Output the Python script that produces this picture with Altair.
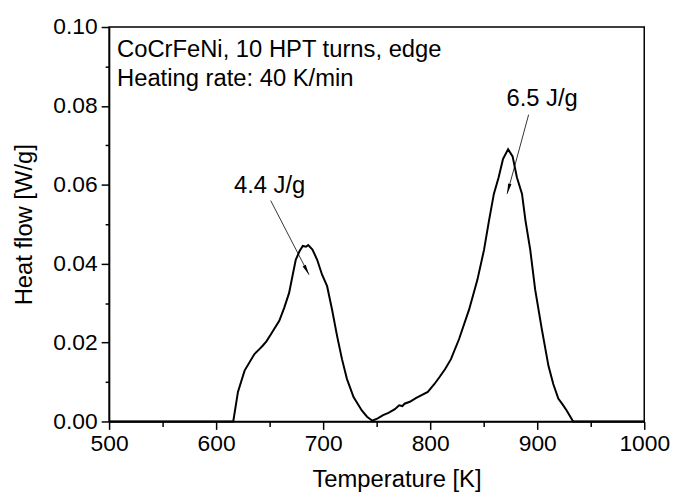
import altair as alt
import pandas as pd

# DSC curve
temperature = [500, 616, 620.4, 626.6, 635.8, 640, 643.5, 647, 651.2, 659, 663.6, 668.2, 671.3,
               674.4, 678, 681, 684, 686, 690, 694.4, 699, 703.7, 708.3, 713, 717.6, 722.2,
               728.4, 736.1, 741, 746, 751, 756, 761, 767, 771, 774, 776, 781, 787, 797.8,
               804, 808.6, 814, 819.4, 827, 836.4, 844.1, 850.3, 855, 859.5, 864, 868, 872.8,
               877, 881, 885.8, 889, 893.5, 898.1, 904.3, 910.5, 915, 919.7, 924, 927.5,
               933.6, 1000]
heat_flow = [0, 0, 0.0075, 0.0129, 0.0171, 0.0182, 0.0192, 0.0203, 0.0221, 0.0255, 0.0288,
             0.0326, 0.0368, 0.0410, 0.0432, 0.0445, 0.0443, 0.0447, 0.0436, 0.0410, 0.0372,
             0.0343, 0.0284, 0.0217, 0.0158, 0.0108, 0.0062, 0.0028, 0.0012, 0.0002, 0.0008,
             0.0016, 0.0022, 0.0031, 0.0041, 0.0039, 0.0045, 0.0050, 0.0060, 0.0075, 0.0095,
             0.0112, 0.0133, 0.0158, 0.0209, 0.0284, 0.0359, 0.0435, 0.0510, 0.0577, 0.0619,
             0.0665, 0.0690, 0.0672, 0.0619, 0.0577, 0.0510, 0.0435, 0.0334, 0.0234, 0.0141,
             0.0095, 0.0058, 0.0042, 0.0028, 0.0, 0.0]

# annotations
arrow_x_start = [651.0, 892.0]
arrow_y_start = [0.0560, 0.0778]
arrow_x_end = [686.8, 871.9]
arrow_y_end = [0.0372, 0.0577]
arrow_angle = [152, 195]

peak_labels = ["4.4 J/g", "6.5 J/g"]
peak_label_x = [650.0, 904.6]
peak_label_y = [0.0598, 0.0817]

info_lines = ["CoCrFeNi, 10 HPT turns, edge", "Heating rate: 40 K/min"]
info_x = [507.4, 507.4]
info_y = [0.0942, 0.0867]

x_major = [500, 600, 700, 800, 900, 1000]
x_minor = [550, 650, 750, 850, 950]
y_major = [0.0, 0.02, 0.04, 0.06, 0.08, 0.10]
y_minor = [0.01, 0.03, 0.05, 0.07, 0.09]

FONT = "Liberation Sans"
FS_TICK = 23
FS_TEXT = 24

curve = pd.DataFrame({"T": temperature, "H": heat_flow})
arrows = pd.DataFrame({"x": arrow_x_start, "y": arrow_y_start,
                       "x2": arrow_x_end, "y2": arrow_y_end, "angle": arrow_angle})
peaks = pd.DataFrame({"x": peak_label_x, "y": peak_label_y, "t": peak_labels})
info = pd.DataFrame({"x": info_x, "y": info_y, "t": info_lines})

xscale = alt.Scale(domain=[500, 1000], nice=False, zero=False)
yscale = alt.Scale(domain=[0, 0.1], nice=False)

x_axis = alt.Axis(
    values=x_major, title="Temperature [K]", format="d", orient="bottom",
    tickSize=8, labelPadding=3, labelFlush=False, labelOverlap=False, grid=False,
    titlePadding=13, titleX=290,
)
y_axis = alt.Axis(
    values=y_major, title="Heat flow [W/g]", format=".2f", orient="left",
    tickSize=8, labelPadding=4, labelOverlap=False, grid=False, titlePadding=17,
)
x_minor_axis = alt.Axis(
    values=x_minor, orient="bottom", tickSize=5, labels=False, domain=False,
    grid=False, title=None,
)
y_minor_axis = alt.Axis(
    values=y_minor, orient="left", tickSize=4, labels=False, domain=False,
    grid=False, title=None,
)

line = alt.Chart(curve).mark_line(color="black", strokeWidth=2).encode(
    x=alt.X("T:Q", scale=xscale, axis=x_axis),
    y=alt.Y("H:Q", scale=yscale, axis=y_axis),
)

rules = alt.Chart(arrows).mark_rule(color="black", strokeWidth=0.8).encode(
    x=alt.X("x:Q", scale=xscale, axis=x_minor_axis),
    y=alt.Y("y:Q", scale=yscale, axis=y_minor_axis),
    x2="x2:Q", y2="y2:Q",
)

heads = alt.Chart(arrows).mark_point(
    shape="M0,0 L-0.32,1.9 L0.32,1.9 Z", filled=True, color="black", size=120, opacity=1
).encode(
    x=alt.X("x2:Q", scale=xscale, axis=None),
    y=alt.Y("y2:Q", scale=yscale, axis=None),
    angle=alt.Angle("angle:Q", scale=None),
)

peak_text = alt.Chart(peaks).mark_text(font=FONT, fontSize=FS_TEXT, color="black",
                                       baseline="middle", align="center").encode(
    x=alt.X("x:Q", scale=xscale, axis=None),
    y=alt.Y("y:Q", scale=yscale, axis=None),
    text="t:N")

info_text = alt.Chart(info).mark_text(font=FONT, fontSize=FS_TEXT, color="black",
                                      baseline="middle", align="left").encode(
    x=alt.X("x:Q", scale=xscale, axis=None),
    y=alt.Y("y:Q", scale=yscale, axis=None),
    text="t:N")

chart = alt.layer(line, rules, heads, peak_text, info_text).resolve_axis(
    x="independent", y="independent"
).properties(
    width=540, height=398,
    padding={"left": 102, "top": 17, "right": 27, "bottom": 72},
    autosize=alt.AutoSizeParams(type="none"),
    background="white",
).configure_view(
    stroke="black", strokeWidth=1.5
).configure_axis(
    labelFont=FONT, labelFontSize=FS_TICK, labelColor="black",
    titleFont=FONT, titleFontSize=FS_TEXT, titleColor="black", titleFontWeight="normal",
    domainColor="black", domainWidth=1.5, tickColor="black", tickWidth=1.5,
)

chart.save("out.html", embed_options={"renderer": "svg", "actions": False})
